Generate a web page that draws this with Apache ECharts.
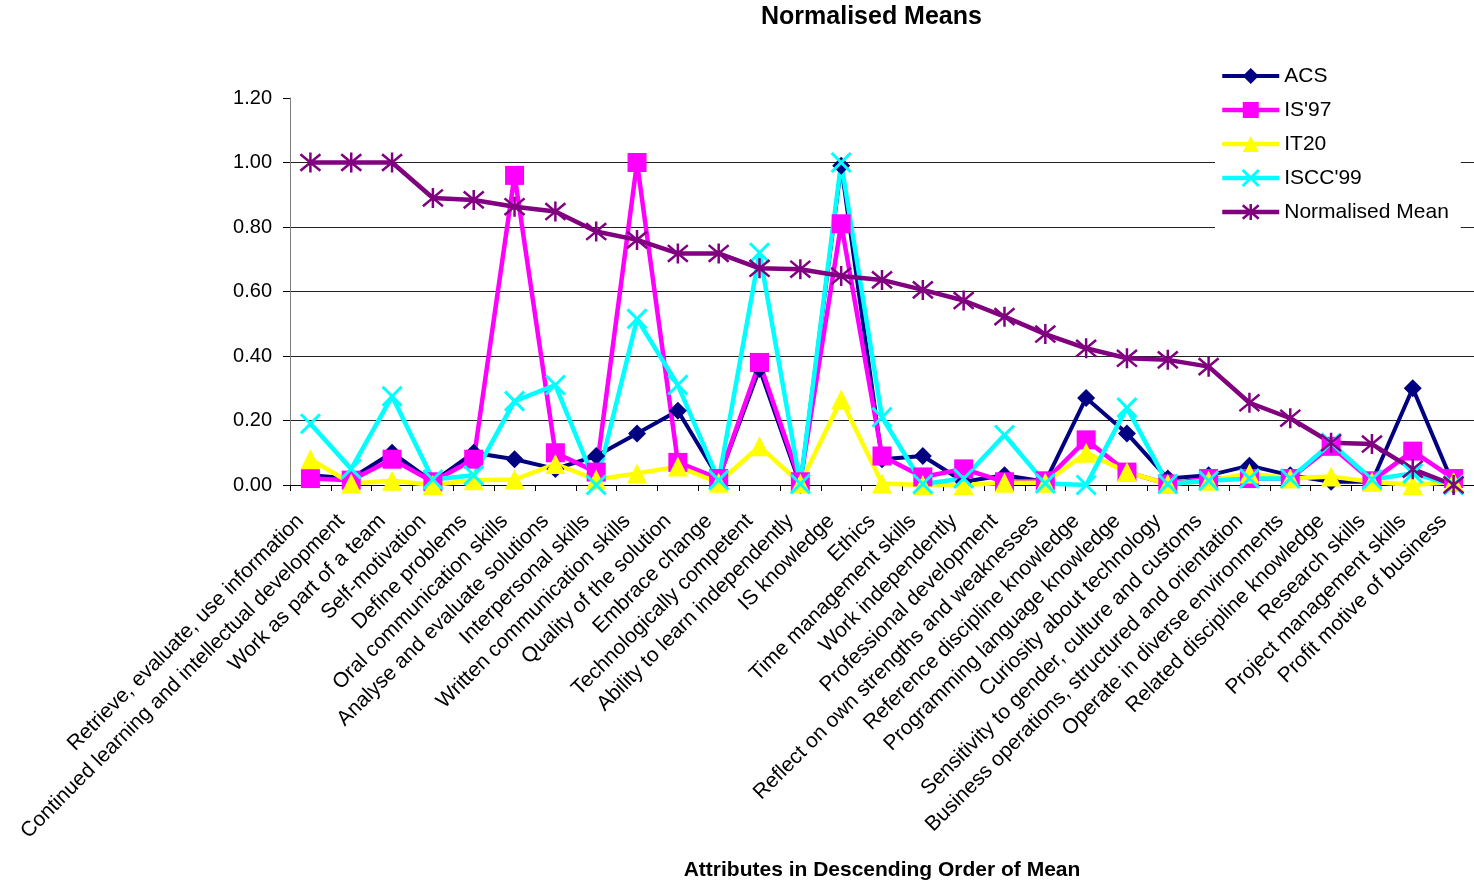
<!DOCTYPE html>
<html>
<head>
<meta charset="utf-8">
<script src="https://cdn.jsdelivr.net/npm/echarts@6/dist/echarts.min.js"></script>
<style>
html,body{margin:0;padding:0;background:#fff;}
#chart{width:1474px;height:885px;}
</style>
</head>
<body>
<div id="chart"></div>
<script>
const categories = [
  "Retrieve, evaluate, use information",
  "Continued learning and intellectual development",
  "Work as part of a team",
  "Self-motivation",
  "Define problems",
  "Oral communication skills",
  "Analyse and evaluate solutions",
  "Interpersonal skills",
  "Written communication skills",
  "Quality of the solution",
  "Embrace change",
  "Technologically competent",
  "Ability to learn independently",
  "IS knowledge",
  "Ethics",
  "Time management skills",
  "Work independently",
  "Professional development",
  "Reflect on own strengths and weaknesses",
  "Reference discipline knowledge",
  "Programming language knowledge",
  "Curiosity about technology",
  "Sensitivity to gender, culture and customs",
  "Business operations, structured and orientation",
  "Operate in diverse environments",
  "Related discipline knowledge",
  "Research skills",
  "Project management skills",
  "Profit motive of business"
];
const acs = [0.03,0.02,0.10,0.01,0.10,0.08,0.05,0.09,0.16,0.23,0.02,0.36,0.00,0.99,0.08,0.09,0.01,0.03,0.01,0.27,0.16,0.02,0.03,0.06,0.03,0.01,0.01,0.30,0.00];
const is97 = [0.02,0.015,0.08,0.01,0.08,0.96,0.10,0.04,1.00,0.07,0.02,0.38,0.01,0.81,0.09,0.025,0.05,0.01,0.013,0.14,0.04,0.003,0.02,0.02,0.02,0.12,0.013,0.105,0.02];
const it20 = [0.08,0.005,0.013,0.0,0.015,0.017,0.065,0.017,0.036,0.057,0.007,0.12,0.005,0.265,0.005,0.0,0.0,0.007,0.007,0.10,0.04,0.003,0.013,0.036,0.02,0.026,0.01,0.0,0.01];
const iscc99 = [0.19,0.05,0.275,0.017,0.03,0.26,0.31,0.0,0.515,0.31,0.015,0.72,0.003,1.00,0.21,0.003,0.02,0.155,0.005,0.0,0.24,0.003,0.013,0.02,0.02,0.13,0.017,0.036,0.0];
const normalisedMean = [1.00,1.00,1.00,0.89,0.884,0.863,0.848,0.786,0.76,0.718,0.718,0.672,0.669,0.648,0.636,0.605,0.572,0.522,0.468,0.424,0.393,0.388,0.367,0.255,0.207,0.131,0.127,0.049,0.0];
const seriesNames = ["ACS","IS'97","IT20","ISCC'99","Normalised Mean"];

const FONT = "'Liberation Sans', Arial, sans-serif";
const xPath = 'path://M0,0L10,10M10,0L0,10';
const starPath = 'path://M0,0L10,10M10,0L0,10M5,-1L5,11';

const chart = echarts.init(document.getElementById('chart'), null, {renderer:'canvas'});
function mk(name, data, color, symbol, size, width, stroke) {
  return {
    name: name, type: 'line', data: data,
    symbol: symbol, symbolSize: size,
    lineStyle: {color: color, width: width},
    itemStyle: stroke ? {color: 'rgba(0,0,0,0)', borderColor: color, borderWidth: stroke} : {color: color, borderWidth: 0},
    emphasis: {disabled: true},
    animation: false
  };
}
chart.setOption({
  animation: false,
  title: {
    text: 'Normalised Means', left: 761, top: 5, padding: 0,
    textStyle: {fontFamily: FONT, fontSize: 25, fontWeight: 'bold', color: '#000'}
  },
  legend: {
    orient: 'vertical', left: 1215, top: 60,
    itemWidth: 57, itemHeight: 20, itemGap: 12,
    padding: [5, 12, 5, 5], backgroundColor: '#fff',
    data: seriesNames,
    textStyle: {fontFamily: FONT, fontSize: 21, color: '#000', lineHeight: 22},
    lineStyle: {width: 'inherit'},
    itemStyle: {borderWidth: 'inherit'}
  },
  grid: {left: 290, right: 0, top: 98, bottom: 400, containLabel: false},
  xAxis: {
    type: 'category', data: categories, boundaryGap: true,
    name: 'Attributes in Descending Order of Mean', nameLocation: 'middle', nameGap: 375,
    nameTextStyle: {fontFamily: FONT, fontSize: 21, fontWeight: 'bold', color: '#000'},
    axisLine: {lineStyle: {color: '#000', width: 1}},
    axisTick: {show: true, length: 6, lineStyle: {color: '#000'}},
    axisLabel: {interval: 0, rotate: 45, margin: 23, padding: [0, 14, 0, 0], fontFamily: FONT, fontSize: 21, color: '#000'},
    splitLine: {show: false}
  },
  yAxis: {
    type: 'value', min: 0, max: 1.2, interval: 0.2,
    axisLine: {show: true, lineStyle: {color: '#808080', width: 1}},
    axisTick: {show: true, length: 7, lineStyle: {color: '#000'}},
    axisLabel: {margin: 18, fontFamily: FONT, fontSize: 20, color: '#000', formatter: v => v.toFixed(2)},
    splitLine: {show: true, showMaxLine: false, lineStyle: {color: '#222', width: 1}}
  },
  series: [
    mk(seriesNames[0], acs, '#000080', 'diamond', 18, 4, 0),
    mk(seriesNames[1], is97, '#FF00FF', 'rect', 19, 4.5, 0),
    mk(seriesNames[2], it20, '#FFFF00', 'triangle', 20, 4.5, 0),
    mk(seriesNames[3], iscc99, '#00FFFF', xPath, 19, 4.5, 3),
    mk(seriesNames[4], normalisedMean, '#800080', starPath, 20, 4.5, 2.5)
  ]
});
</script>
</body>
</html>
